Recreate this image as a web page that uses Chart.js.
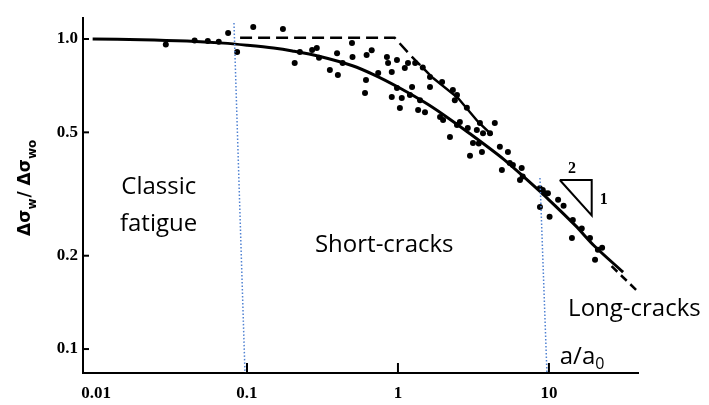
<!DOCTYPE html>
<html>
<head>
<meta charset="utf-8">
<script src="https://cdn.jsdelivr.net/npm/chart.js@4.4.1/dist/chart.umd.min.js"></script>
<style>
html,body{margin:0;padding:0;background:#fff;}
#wrap{position:relative;width:709px;height:405px;}
</style>
</head>
<body>
<div id="wrap"><canvas id="c" width="709" height="405"></canvas></div>
<script>
// ---- data ----
const xTickValues = [0.01, 0.1, 1, 10];
const xTickLabels = ['0.01', '0.1', '1', '10'];
const yTickValues = [0.1, 0.2, 0.5, 1.0];
const yTickLabels = ['0.1', '0.2', '0.5', '1.0'];

// experimental points (a/a0, Δσw/Δσwo)
const dotX = [0.029,0.045,0.055,0.065,0.075,0.086,0.11,0.173,0.207,0.224,0.27,0.29,0.3,0.354,0.395,0.40,0.43,0.496,0.50,0.605,0.614,0.62,0.67,0.74,0.845,0.86,0.91,0.91,0.985,0.985,1.03,1.06,1.11,1.165,1.2,1.24,1.3,1.36,1.4,1.46,1.51,1.63,1.63,1.9,1.96,1.99,2.21,2.31,2.38,2.46,2.46,2.57,2.86,2.9,3.0,3.14,3.33,3.43,3.49,3.6,3.66,4.07,4.38,4.73,4.88,5.35,5.5,5.77,6.43,6.6,6.7,8.7,8.72,9.1,9.4,9.85,10.1,11.5,12.5,14.2,14.4,16.5,18.7,20.2,21.1,22.5];
const dotY = [0.96,0.99,0.985,0.98,1.045,0.908,1.093,1.077,0.837,0.908,0.921,0.935,0.87,0.794,0.90,0.765,0.837,0.97,0.875,0.67,0.738,0.888,0.92,0.777,0.875,0.837,0.783,0.65,0.855,0.695,0.599,0.645,0.806,0.837,0.66,0.70,0.837,0.59,0.635,0.81,0.58,0.70,0.754,0.56,0.727,0.548,0.483,0.685,0.635,0.66,0.528,0.54,0.60,0.516,0.42,0.462,0.509,0.46,0.536,0.432,0.497,0.497,0.536,0.449,0.378,0.432,0.398,0.392,0.351,0.384,0.36,0.33,0.287,0.326,0.318,0.318,0.267,0.303,0.29,0.228,0.261,0.245,0.228,0.194,0.209,0.212];

// solid fitted curve
const curveX = [0.0095,0.02,0.04,0.07,0.1,0.15,0.2,0.3,0.5,0.7,1,1.5,2,3,5,7,10,15,20,31];
const curveY = [1.0,0.995,0.985,0.97,0.955,0.935,0.915,0.88,0.82,0.765,0.70,0.625,0.57,0.495,0.41,0.355,0.303,0.25,0.215,0.177];

// dashed limit line (fatigue limit, then long-crack threshold)
const limitX = [0.09, 0.95, 1.2, 1.7];
const limitY = [1.01, 1.01, 0.89, 0.75];
const longX = [1.7, 2.5, 3.4, 4.2];
const longY = [0.75, 0.645, 0.54, 0.49];
const tailX = [26, 39];
const tailY = [0.185, 0.153];

// blue dotted region boundaries
const guide1X = [0.082, 0.097];
const guide1Y = [1.126, 0.0837];
const guide2X = [8.72, 9.7];
const guide2Y = [0.356, 0.0837];

// slope triangle
const triX = [11.8, 19.2, 19.2, 11.8];
const triY = [0.351, 0.351, 0.270, 0.351];

const pts = (xs, ys) => xs.map((x, i) => ({x: x, y: ys[i]}));

// annotations, anchored in data coordinates
const notes = [
  {text: 'Classic', x: 0.0147, y: 0.316, font: '24px "Open Sans"', align: 'left'},
  {text: 'fatigue', x: 0.0144, y: 0.240, font: '24px "Open Sans"', align: 'left'},
  {text: 'Short-cracks', x: 0.282, y: 0.2056, font: '24px "Open Sans"', align: 'left'},
  {text: 'Long-cracks', x: 13.4, y: 0.128, font: '24px "Open Sans"', align: 'left'},
  {text: '2', x: 14.2, y: 0.37, font: 'bold 16px "Liberation Serif"', align: 'center'},
  {text: '1', x: 23.1, y: 0.294, font: 'bold 16px "Liberation Serif"', align: 'center'}
];

const annot = {
  id: 'annot',
  afterDatasetsDraw(chart) {
    const ctx = chart.ctx;
    const xs = chart.scales.x, ys = chart.scales.y;
    ctx.save();
    // inward tick marks
    ctx.strokeStyle = '#000';
    ctx.lineWidth = 2;
    yTickValues.forEach(v => {
      const py = ys.getPixelForValue(v);
      ctx.beginPath(); ctx.moveTo(xs.left, py); ctx.lineTo(xs.left + 6, py); ctx.stroke();
    });
    xTickValues.slice(1).forEach(v => {
      const px = xs.getPixelForValue(v);
      ctx.beginPath(); ctx.moveTo(px, ys.bottom); ctx.lineTo(px, ys.bottom - 10); ctx.stroke();
    });
    // texts
    ctx.fillStyle = '#000';
    ctx.textBaseline = 'alphabetic';
    notes.forEach(n => {
      ctx.font = n.font;
      ctx.textAlign = n.align;
      ctx.fillText(n.text, xs.getPixelForValue(n.x), ys.getPixelForValue(n.y));
    });
    // a/a0
    const ax = xs.getPixelForValue(11.8), ay = ys.getPixelForValue(0.0895);
    ctx.textAlign = 'left';
    ctx.font = '24px "Open Sans"';
    ctx.fillText('a/a', ax, ay);
    const w = ctx.measureText('a/a').width;
    ctx.font = '16px "Open Sans"';
    ctx.fillText('0', ax + w, ay + 5);
    // y title (rotated)
    ctx.translate(30, 236);
    ctx.rotate(-Math.PI / 2);
    const parts = [
      {t: 'Δσ', s: false}, {t: 'w', s: true}, {t: '/ ', s: false},
      {t: 'Δσ', s: false}, {t: 'wo', s: true}
    ];
    let cx = 0;
    parts.forEach(p => {
      ctx.font = p.s ? 'bold 12px "DejaVu Sans"' : 'bold 17px "DejaVu Sans"';
      ctx.fillText(p.t, cx, p.s ? 6 : 0);
      cx += ctx.measureText(p.t).width + (p.s ? 1 : 0);
    });
    ctx.restore();
  }
};

const lineDs = (data, extra) => Object.assign({
  data: data, showLine: true, pointRadius: 0, borderColor: '#000',
  backgroundColor: '#000', fill: false
}, extra);

new Chart(document.getElementById('c'), {
  type: 'scatter',
  data: {
    datasets: [
      lineDs(pts(guide1X, guide1Y), {borderColor: 'rgb(80,130,210)', borderWidth: 1.5, borderDash: [1.5, 2]}),
      lineDs(pts(guide2X, guide2Y), {borderColor: 'rgb(80,130,210)', borderWidth: 1.5, borderDash: [1.5, 2]}),
      {data: pts(dotX, dotY), pointRadius: 3, pointBackgroundColor: '#000', pointBorderWidth: 0, showLine: false},
      lineDs(pts(curveX, curveY), {borderWidth: 3, tension: 0.3}),
      lineDs(pts(limitX, limitY), {borderWidth: 2.5, borderDash: [12, 6]}),
      lineDs(pts(longX, longY), {borderWidth: 2.5}),
      lineDs(pts(tailX, tailY), {borderWidth: 2.5, borderDash: [8, 5]}),
      lineDs(pts(triX, triY), {borderWidth: 2})
    ]
  },
  options: {
    responsive: false,
    animation: false,
    layout: {padding: {top: 18, right: 71, bottom: 0, left: 0}},
    plugins: {legend: {display: false}, tooltip: {enabled: false}},
    scales: {
      x: {
        type: 'logarithmic', min: 0.0082, max: 38.9,
        afterBuildTicks: s => { s.ticks = xTickValues.map(v => ({value: v})); },
        afterFit: s => { s.height = 32; },
        grid: {display: true, drawOnChartArea: false, drawTicks: false},
        border: {display: true, color: '#000', width: 2},
        ticks: {
          autoSkip: false, maxRotation: 0, padding: 10, color: '#000',
          font: {family: '"Liberation Serif"', size: 17, weight: 'bold'},
          callback: (v, i) => xTickLabels[i]
        }
      },
      y: {
        type: 'logarithmic', min: 0.0837, max: 1.169,
        afterBuildTicks: s => { s.ticks = yTickValues.map(v => ({value: v})); },
        afterFit: s => { s.width = 83; },
        grid: {display: true, drawOnChartArea: false, drawTicks: false},
        border: {display: true, color: '#000', width: 2},
        ticks: {
          autoSkip: false, padding: 5, color: '#000',
          font: {family: '"Liberation Serif"', size: 17, weight: 'bold'},
          callback: (v, i) => yTickLabels[i]
        }
      }
    }
  },
  plugins: [annot]
});
</script>
</body>
</html>
